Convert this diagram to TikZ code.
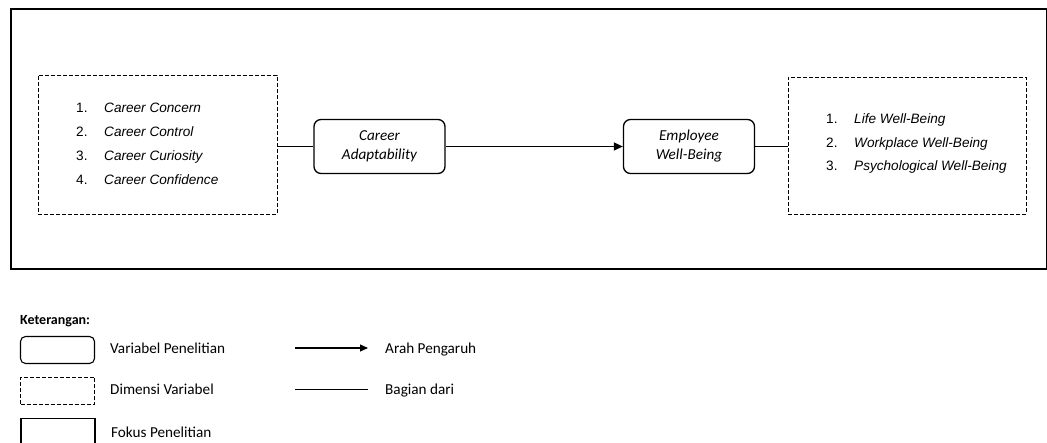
\documentclass[tikz,border=0pt]{standalone}
\usepackage{fontspec}
\setmainfont{Carlito}
\newfontfamily\arialf{Liberation Sans}
\usetikzlibrary{arrows.meta}
\tikzset{
  frame/.style={draw, line width=1.3pt},
  varbox/.style={draw, line width=1.3pt, rounded corners=7pt, minimum width=131pt, minimum height=54pt, align=center, font=\fontsize{15.2}{19}\selectfont\itshape},
  dimbox/.style={draw, line width=0.9pt, dash pattern=on 4pt off 2pt},
  item/.style={anchor=base west, inner sep=0pt, font=\arialf\fontsize{13.6}{16}\selectfont},
  itemtext/.style={item, font=\arialf\fontsize{13.6}{16}\selectfont\itshape},
  legtext/.style={anchor=base west, inner sep=0pt, font=\fontsize{15.2}{18}\selectfont},
  conn/.style={line width=1.3pt},
  arr/.style={line width=1.3pt, -{Triangle[length=9pt,width=8pt]}},
}
\begin{document}
\begin{tikzpicture}[x=1pt,y=-1pt]
\useasboundingbox (0,0) rectangle (1047,443);
% outer focus frame
\draw[frame] (11,9) rectangle (1046.4,269);
% left dimension box
\node[dimbox, minimum width=239pt, minimum height=139pt, inner sep=0pt] (dimL) at (157.5,144.5) {};
\node[item] (l1n) at (76,113) {1.};
\node[itemtext] (l1) at (104,113) {Career Concern};
\node[item] (l2n) at (76,137) {2.};
\node[itemtext] (l2) at (104,137) {Career Control};
\node[item] (l3n) at (76,161) {3.};
\node[itemtext] (l3) at (104,161) {Career Curiosity};
\node[item] (l4n) at (76,185) {4.};
\node[itemtext] (l4) at (104,185) {Career Confidence};
% variable boxes
\node[varbox] (ca) at (379.5,146.5) {Career\\Adaptability};
\node[varbox] (ew) at (689,146.5) {Employee\\Well-Being};
% right dimension box
\node[dimbox, minimum width=238pt, minimum height=137pt, inner sep=0pt] (dimR) at (907,145.5) {};
\node[item] (r1n) at (826,124) {1.};
\node[itemtext] (r1) at (854,124) {Life Well-Being};
\node[item] (r2n) at (826,147.5) {2.};
\node[itemtext] (r2) at (854,147.5) {Workplace Well-Being};
\node[item] (r3n) at (826,171) {3.};
\node[itemtext] (r3) at (854,171) {Psychological Well-Being};
% connectors
\draw[conn] (dimL.east |- ca.west) -- (ca.west);
\draw[arr] (ca.east) -- (ew.west);
\draw[conn] (ew.east) -- (dimR.west |- ew.east);
% legend
\node[anchor=base west, inner sep=0pt, font=\fontsize{14}{17}\selectfont\bfseries] (ket) at (20,324.5) {Keterangan:};
\node[draw, line width=1.1pt, rounded corners=5pt, minimum width=74pt, minimum height=27pt, inner sep=0pt] (lgv) at (57.5,350) {};
\node[legtext] (lgvt) at (110,353.5) {Variabel Penelitian};
\node[dimbox, minimum width=74pt, minimum height=27pt, inner sep=0pt] (lgd) at (57.5,391) {};
\node[legtext] (lgdt) at (110,395) {Dimensi Variabel};
\draw[line width=1.1pt] (21,446) -- (21,418.5) -- (95,418.5) -- (95,446);
\node[legtext] (lgft) at (111,437.5) {Fokus Penelitian};
\coordinate (a1) at (295,348);
\coordinate (a2) at (368,348);
\draw[line width=1.1pt, -{Triangle[length=8pt,width=7pt]}] (a1) -- (a2);
\node[legtext] (lgat) at (385,353.5) {Arah Pengaruh};
\coordinate (b1) at (295,390);
\coordinate (b2) at (368,390);
\draw[line width=1pt] (b1) -- (b2);
\node[legtext] (lgbt) at (385,395) {Bagian dari};
\end{tikzpicture}
\end{document}
